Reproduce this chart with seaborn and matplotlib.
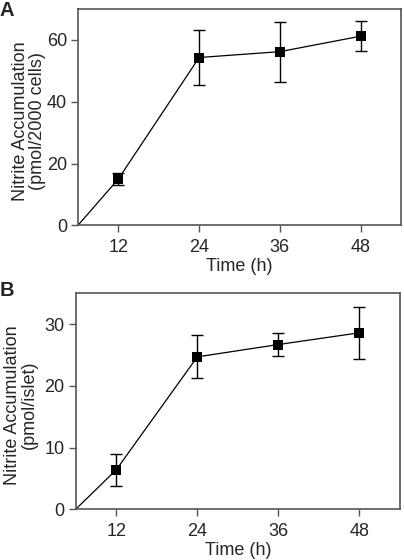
import matplotlib
matplotlib.use("Agg")
import matplotlib.pyplot as plt
import seaborn as sns
import pandas as pd

sns.set_theme(style="white")
plt.rcParams['font.family'] = ['Liberation Sans', 'DejaVu Sans']

# Data
time_h = [12, 24, 36, 48]
start_time = 6
start_value = 0

a_values = [15.0, 54.3, 56.2, 61.2]
a_errors = [2.0, 9.0, 9.7, 4.9]

b_values = [6.4, 24.7, 26.7, 28.6]
b_errors = [2.6, 3.5, 1.8, 4.2]

xticks = [12, 24, 36, 48]
a_yticks = [0, 20, 40, 60]
b_yticks = [0, 10, 20, 30]

panels = [
    dict(letter="A", values=a_values, errors=a_errors, yticks=a_yticks, ylim=(0, 70),
         ylabel="Nitrite Accumulation\n(pmol/2000 cells)",
         rect=[78/404, 1-225.3/560, (401-78)/404, (225.3-9)/560],
         label_x=(46-78)/323, label_y=1-(121-9)/216.3),
    dict(letter="B", values=b_values, errors=b_errors, yticks=b_yticks, ylim=(0, 35),
         ylabel="Nitrite Accumulation\n(pmol/islet)",
         rect=[75.7/404, 1-509.3/560, (400-75.7)/404, (509.3-293.3)/560],
         label_x=(38-75.7)/324.3, label_y=1-(405-293.3)/216),
]

fig = plt.figure(figsize=(4.04, 5.6), dpi=100)
spine_color = "#555555"
fs = 13

for p in panels:
    ax = fig.add_axes(p["rect"])
    line_df = pd.DataFrame({"t": [start_time] + time_h, "v": [start_value] + p["values"]})
    pts_df = pd.DataFrame({"t": time_h, "v": p["values"]})
    sns.lineplot(data=line_df, x="t", y="v", ax=ax, color="black", linewidth=0.9,
                 sort=False, estimator=None)
    ax.errorbar(time_h, p["values"], yerr=p["errors"], fmt="none", ecolor="black",
                elinewidth=1.0, capsize=4, capthick=1.0)
    sns.scatterplot(data=pts_df, x="t", y="v", ax=ax, marker="s", s=48, color="black",
                    edgecolor="black", linewidth=0, zorder=5)
    ax.set_xlim(6, 54)
    ax.set_ylim(*p["ylim"])
    ax.set_xticks(xticks)
    ax.set_xticklabels([str(t) for t in xticks])
    ax.set_yticks(p["yticks"])
    ax.set_yticklabels([str(t) for t in p["yticks"]])
    ax.set_xlabel("Time (h)", fontsize=fs, labelpad=1)
    ax.set_ylabel(p["ylabel"], fontsize=fs, linespacing=1.0)
    ax.yaxis.set_label_coords(p["label_x"], p["label_y"])
    ax.tick_params(axis="both", direction="out", length=5, width=1, color=spine_color,
                   labelsize=fs, bottom=True, left=True, top=False, right=False)
    ax.tick_params(axis="x", pad=5)
    ax.tick_params(axis="y", pad=3)
    for s in ax.spines.values():
        s.set_color(spine_color)
        s.set_linewidth(1.2)
        s.set_visible(True)
    ax.grid(False)

fig.text(0/404, 1-1/560, "A", fontsize=14.5, fontweight="bold", va="top", ha="left")
fig.text(0/404, 1-281/560, "B", fontsize=14.5, fontweight="bold", va="top", ha="left")

fig.savefig("out.png", dpi=100)
